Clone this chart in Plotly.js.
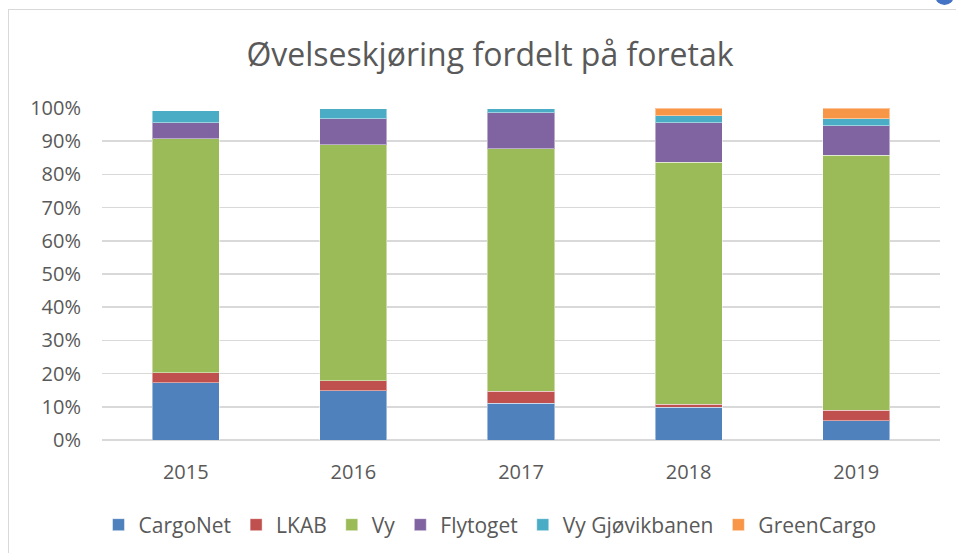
<!DOCTYPE html>
<html>
<head>
<meta charset="utf-8">
<script src="https://cdn.plot.ly/plotly-3.0.1.min.js"></script>
<style>
  html, body { margin: 0; padding: 0; background: #ffffff; overflow: hidden; }
  #wrap { position: relative; width: 956px; height: 553px; }
  #chart { position: absolute; left: 0; top: 0; width: 956px; height: 553px; }
  #frame { position: absolute; left: 8px; top: 9px; width: 970px; height: 580px;
           border: 1.5px solid #d9d9d9; pointer-events: none; }
  #handle { position: absolute; left: 935px; top: -14px; width: 19px; height: 19px;
            border-radius: 50%; background: #4472c4; pointer-events: none; }
</style>
</head>
<body>
<div id="wrap">
  <div id="chart"></div>
  <div id="frame"></div>
  <div id="handle"></div>
</div>
<script>
const years = ["2015", "2016", "2017", "2018", "2019"];
const seriesNames = ["CargoNet", "LKAB", "Vy", "Flytoget", "Vy Gjøvikbanen", "GreenCargo"];
const cargoNet      = [17.3, 14.9, 11.1, 9.9, 5.8];
const lkab          = [2.9, 2.9, 3.6, 0.9, 3.1];
const vy            = [70.5, 71.1, 73.1, 72.9, 76.9];
const flytoget      = [4.9, 7.8, 10.8, 11.9, 8.9];
const vyGjovikbanen = [3.6, 3.1, 1.2, 2.1, 2.0];
const greenCargo    = [0, 0, 0, 2.3, 3.3];
const yTickVals = [0, 10, 20, 30, 40, 50, 60, 70, 80, 90, 100];
const yTickText = yTickVals.map(v => v + "%");

const seriesValues = [cargoNet, lkab, vy, flytoget, vyGjovikbanen, greenCargo];
const colors = ["#4f81bd", "#c0504d", "#9bbb59", "#8064a2", "#4bacc6", "#f79646"];
const font = "'Open Sans', 'Liberation Sans', sans-serif";

const traces = seriesNames.map((name, i) => ({
  type: "bar",
  name: name,
  x: years,
  y: seriesValues[i],
  marker: { color: colors[i], line: { color: "rgba(255,255,255,0.45)", width: 1 } },
  hoverinfo: "name+y"
}));

const layout = {
  width: 956,
  height: 553,
  barmode: "stack",
  bargap: 0.6,
  paper_bgcolor: "#ffffff",
  plot_bgcolor: "#ffffff",
  margin: { l: 102, r: 16, t: 108, b: 113, pad: 0, autoexpand: false },
  font: { family: font, color: "#595959", size: 20 },
  title: {
    text: "Øvelseskjøring fordelt på foretak",
    font: { family: font, size: 32, color: "#595959" },
    x: 490 / 956, xanchor: "center", xref: "container",
    y: 1 - 55 / 553, yanchor: "middle", yref: "container"
  },
  xaxis: {
    type: "category",
    automargin: false,
    showgrid: false,
    showline: false,
    ticks: "",
    ticklabelstandoff: 18,
    tickfont: { family: font, size: 20, color: "#595959" }
  },
  yaxis: {
    range: [0, 100],
    automargin: false,
    tickmode: "array",
    tickvals: yTickVals,
    ticktext: yTickText,
    showgrid: true,
    gridcolor: "#d9d9d9",
    gridwidth: 1.5,
    zeroline: true,
    zerolinecolor: "#d9d9d9",
    zerolinewidth: 1.5,
    showline: false,
    ticks: "",
    ticklabelstandoff: 20,
    tickfont: { family: font, size: 20, color: "#595959" },
    fixedrange: true
  },
  legend: {
    orientation: "h",
    xref: "container",
    x: 490 / 956,
    xanchor: "center",
    yref: "container",
    y: (553 - 525) / 553,
    yanchor: "middle",
    traceorder: "normal",
    font: { family: font, size: 21, color: "#595959" },
    bgcolor: "rgba(0,0,0,0)"
  },
  showlegend: true
};

Plotly.newPlot("chart", traces, layout, { displayModeBar: false, staticPlot: true });
</script>
</body>
</html>
